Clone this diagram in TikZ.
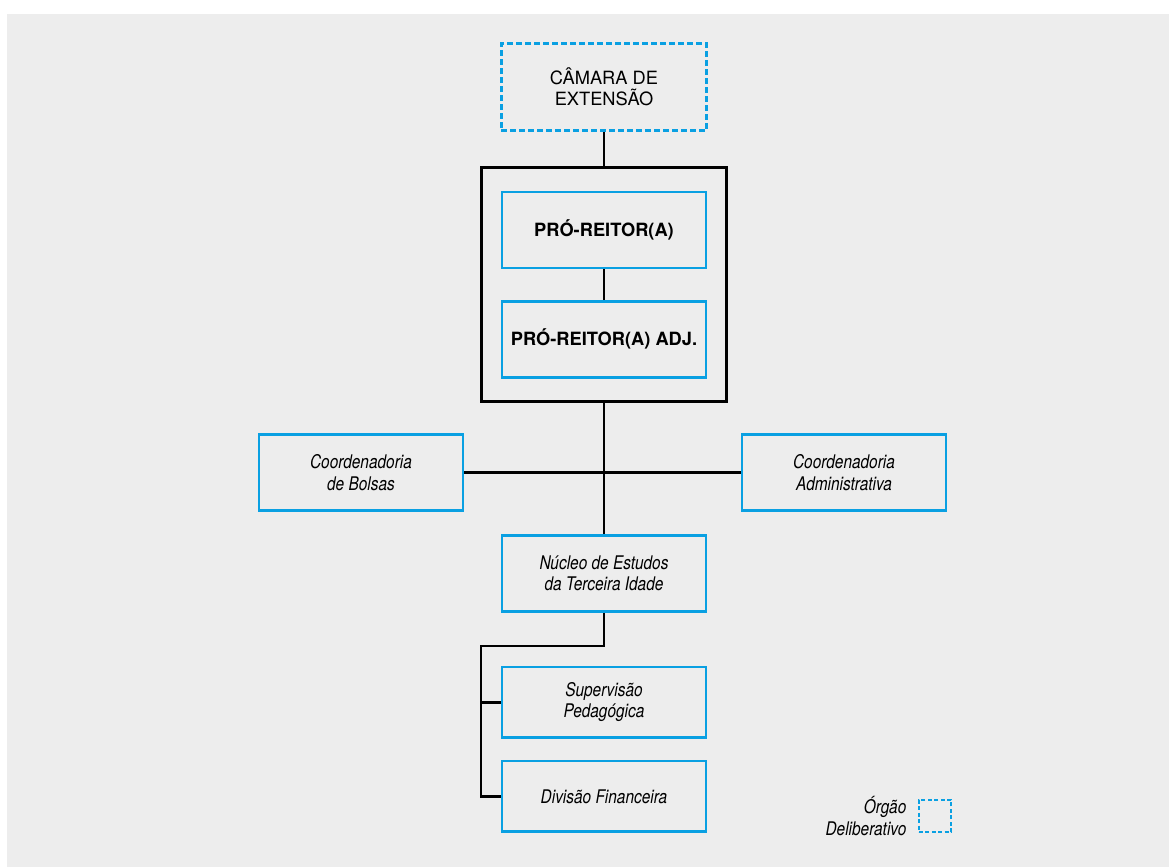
\documentclass[tikz,border=0pt]{standalone}
\usepackage{fontspec}
\setmainfont{TeX Gyre Heros}
\newfontfamily\narrowfont[FakeStretch=0.82]{TeX Gyre Heros}
\usetikzlibrary{positioning, fit}
\definecolor{unitblue}{HTML}{0AA0E2}
\definecolor{panelgray}{HTML}{EDEDED}

\begin{document}
\begin{tikzpicture}[x=0.75pt,y=-0.75pt,on grid,line width=2.2pt,
   unit/.style={draw=unitblue, minimum width=153pt, minimum height=57pt, align=center,
      font=\narrowfont\itshape\fontsize{14.1}{16}\selectfont},
   head/.style={unit, font=\bfseries\fontsize{13.7}{16}\selectfont},
   council/.style={unit, dash pattern=on 4.5pt off 2.25pt, minimum width=154pt,
      minimum height=65pt, font=\fontsize{13.7}{16}\selectfont}]
   \useasboundingbox (0,0) rectangle (1169,867);
   \fill[panelgray] (7,14) rectangle (1169,867);

   \node[council] (camara) at (604,87) {CÂMARA DE\\EXTENSÃO};
   \node[head] (pr) [below=107.25pt of camara] {PRÓ-REITOR(A)};
   \node[head] (pradj) [below=82pt of pr] {PRÓ-REITOR(A) ADJ.};
   \node[draw, fit=(pr)(pradj), inner xsep=14pt, inner ysep=17pt] (gab) {};
   \node[unit] (nucleo) [below=175.5pt of pradj] {Núcleo de Estudos\\da Terceira Idade};
   \node[unit] (bolsas) [above left=75.6pt and 182.25pt of nucleo] {Coordenadoria\\de Bolsas};
   \node[unit] (admin) [above right=75.6pt and 180pt of nucleo] {Coordenadoria\\Administrativa};
   \node[unit, minimum height=53pt] (superv) [below=96.75pt of nucleo] {Supervisão\\Pedagógica};
   \node[unit, minimum height=53pt] (divisao) [below=70.5pt of superv] {Divisão Financeira};
   \coordinate (elbow) at (481,646);

   % legenda
   \node[council, minimum width=24pt, minimum height=24pt, line width=1.8pt,
      dash pattern=on 3pt off 1.8pt] (legend) at (935,816) {};
   \node[unit, draw=none, minimum width=0pt, minimum height=0pt, inner sep=0pt,
      align=right, anchor=east, on grid=false] (legtext) at ([xshift=-7.5pt]legend.west)
      {Órgão\\Deliberativo};

   \draw (camara) -- (gab);
   \draw (pr) -- (pradj);
   \draw (gab) -- (nucleo);
   \draw (bolsas) -- (admin);
   \draw (nucleo.south) |- (elbow) |- (divisao.west);
   \draw (elbow |- superv.west) -- (superv.west);
\end{tikzpicture}
\end{document}
